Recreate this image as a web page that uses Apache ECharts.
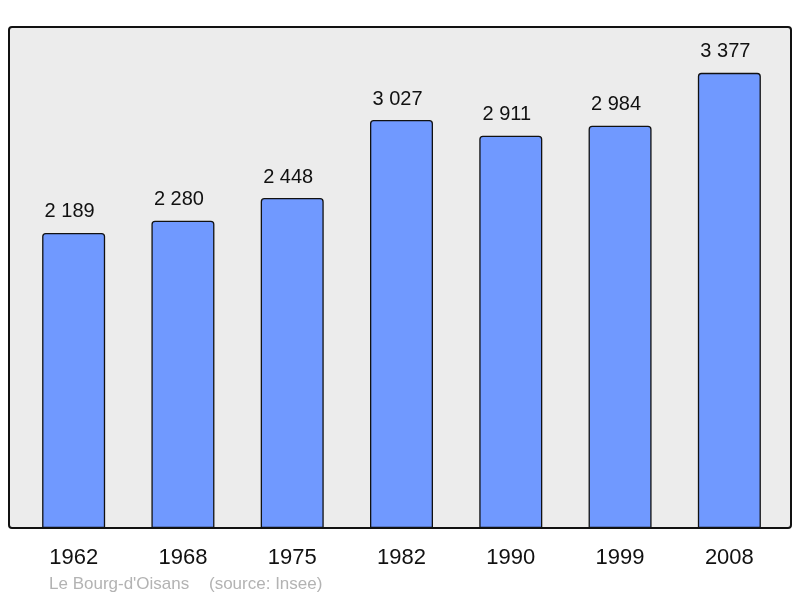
<!DOCTYPE html>
<html><head><meta charset="utf-8">
<script src="https://cdn.jsdelivr.net/npm/echarts@6/dist/echarts.min.js"></script>
<style>html,body{margin:0;padding:0;background:#fff}#c{width:800px;height:598px}</style>
</head><body><div id="c"></div>
<script>
const years = ['1962','1968','1975','1982','1990','1999','2008'];
const population = [2189, 2280, 2448, 3027, 2911, 2984, 3377];
const footerPlace = "Le Bourg-d'Oisans";
const footerSource = "(source: Insee)";

const fmt = v => String(v).replace(/\B(?=(\d{3})+(?!\d))/g, ' ');
const chart = echarts.init(document.getElementById('c'), null, {renderer: 'canvas'});
const FONT = 'Liberation Sans, Arial, sans-serif';
chart.setOption({
  animation: false,
  backgroundColor: '#ffffff',
  textStyle: {fontFamily: FONT},
  graphic: [
    {type: 'rect', z: -10, shape: {x: 9, y: 27, width: 782, height: 501, r: 3},
     style: {fill: '#ececec', stroke: '#111', lineWidth: 2}},
    {type: 'text', left: 49, top: 576,
     style: {text: footerPlace, fill: '#b3b3b3', font: '17px ' + FONT}},
    {type: 'text', left: 209, top: 576,
     style: {text: footerSource, fill: '#b3b3b3', font: '17px ' + FONT}}
  ],
  grid: {left: 19, right: 16, top: 27, bottom: 70, containLabel: false},
  xAxis: {
    type: 'category', data: years,
    axisLine: {show: false}, axisTick: {show: false},
    axisLabel: {color: '#111', fontSize: 22, margin: 19}
  },
  yAxis: {type: 'value', min: 0, max: 3717, show: false, splitLine: {show: false}},
  series: [{
    type: 'bar', data: population, barWidth: 63,
    itemStyle: {color: '#7099ff', borderColor: '#111', borderWidth: 1.3, borderRadius: [3,3,0,0]},
    label: {show: true, position: 'top', distance: 11, offset: [-4, 0], color: '#111', fontSize: 20,
            formatter: p => fmt(p.value)}
  }]
});
</script></body></html>
